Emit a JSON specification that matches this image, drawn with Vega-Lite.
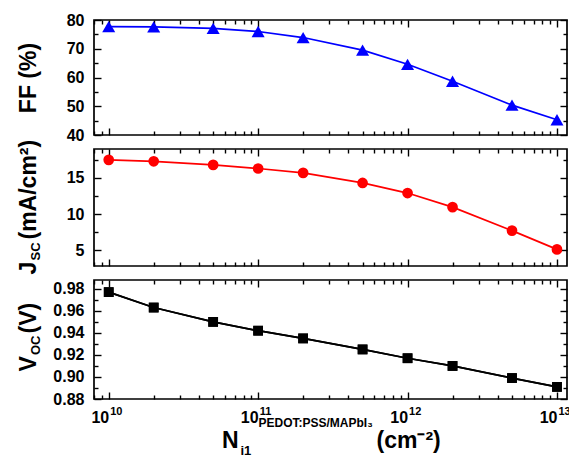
{
  "$schema": "https://vega.github.io/schema/vega-lite/v6.json",
  "padding": {"left": 16, "top": 11, "right": 0, "bottom": 0},
  "data": {"values": [
    {"N": 1e10, "FF": 77.7, "Jsc": 17.5, "Voc": 0.977},
    {"N": 2e10, "FF": 77.6, "Jsc": 17.3, "Voc": 0.963},
    {"N": 5e10, "FF": 77.1, "Jsc": 16.8, "Voc": 0.950},
    {"N": 1e11, "FF": 76.0, "Jsc": 16.3, "Voc": 0.942},
    {"N": 2e11, "FF": 73.9, "Jsc": 15.7, "Voc": 0.935},
    {"N": 5e11, "FF": 69.5, "Jsc": 14.3, "Voc": 0.925},
    {"N": 1e12, "FF": 64.6, "Jsc": 12.9, "Voc": 0.917},
    {"N": 2e12, "FF": 58.7, "Jsc": 10.95, "Voc": 0.910},
    {"N": 5e12, "FF": 50.4, "Jsc": 7.7, "Voc": 0.899},
    {"N": 1e13, "FF": 45.3, "Jsc": 5.1, "Voc": 0.891}
  ]},
  "spacing": 14,
  "bounds": "flush",
  "vconcat": [
    {
      "width": 473, "height": 115,
      "layer": [
        {
          "mark": {"type": "line", "color": "#0000ff", "strokeWidth": 1.7},
          "encoding": {
            "x": {"field": "N", "type": "quantitative", "scale": {"type": "log", "domain": [7.97e9, 1.167e13], "nice": false},
              "axis": {"orient": "bottom", "values": [8e9, 9e9, 1e10, 2e10, 3e10, 4e10, 5e10, 6e10, 7e10, 8e10, 9e10, 1e11, 2e11, 3e11, 4e11, 5e11, 6e11, 7e11, 8e11, 9e11, 1e12, 2e12, 3e12, 4e12, 5e12, 6e12, 7e12, 8e12, 9e12, 1e13],
                "labels": false, "title": null,
                "tickSize": {"condition": {"test": "abs(log(datum.value)/LN10 - round(log(datum.value)/LN10)) < 1e-6", "value": -7}, "value": -4}}},
            "y": {"field": "FF", "type": "quantitative", "scale": {"domain": [40, 80], "nice": false, "zero": false},
              "axis": {"orient": "left", "values": [40, 45, 50, 55, 60, 65, 70, 75, 80],
                "labelExpr": "datum.value % 10 === 0 ? datum.label : ''",
                "tickSize": {"condition": {"test": "datum.value % 10 === 0", "value": -7}, "value": -4},
                "labelPadding": 17,
                "title": "FF (%)", "titleX": -59, "titleY": 57.5, "titleAngle": 270, "titleAlign": "center"}}
          }
        },
        {
          "mark": {"type": "point", "shape": "triangle-up", "filled": true, "color": "#0000ff", "size": 170, "opacity": 1},
          "encoding": {
            "x": {"field": "N", "type": "quantitative", "scale": {"type": "log", "domain": [7.97e9, 1.167e13], "nice": false},
              "axis": {"orient": "top", "values": [8e9, 9e9, 1e10, 2e10, 3e10, 4e10, 5e10, 6e10, 7e10, 8e10, 9e10, 1e11, 2e11, 3e11, 4e11, 5e11, 6e11, 7e11, 8e11, 9e11, 1e12, 2e12, 3e12, 4e12, 5e12, 6e12, 7e12, 8e12, 9e12, 1e13],
                "labels": false, "title": null,
                "tickSize": {"condition": {"test": "abs(log(datum.value)/LN10 - round(log(datum.value)/LN10)) < 1e-6", "value": -7}, "value": -4}}},
            "y": {"field": "FF", "type": "quantitative", "scale": {"domain": [40, 80], "nice": false, "zero": false},
              "axis": {"orient": "right", "values": [40, 45, 50, 55, 60, 65, 70, 75, 80], "labels": false, "title": null,
                "tickSize": {"condition": {"test": "datum.value % 10 === 0", "value": -7}, "value": -4}}}
          }
        }
      ],
      "resolve": {"axis": {"x": "independent", "y": "independent"}}
    },
    {
      "width": 473, "height": 117,
      "layer": [
        {
          "mark": {"type": "line", "color": "#ff0000", "strokeWidth": 1.7},
          "encoding": {
            "x": {"field": "N", "type": "quantitative", "scale": {"type": "log", "domain": [7.97e9, 1.167e13], "nice": false},
              "axis": {"orient": "bottom", "values": [8e9, 9e9, 1e10, 2e10, 3e10, 4e10, 5e10, 6e10, 7e10, 8e10, 9e10, 1e11, 2e11, 3e11, 4e11, 5e11, 6e11, 7e11, 8e11, 9e11, 1e12, 2e12, 3e12, 4e12, 5e12, 6e12, 7e12, 8e12, 9e12, 1e13],
                "labels": false, "title": null,
                "tickSize": {"condition": {"test": "abs(log(datum.value)/LN10 - round(log(datum.value)/LN10)) < 1e-6", "value": -7}, "value": -4}}},
            "y": {"field": "Jsc", "type": "quantitative", "scale": {"domain": [2.8, 19], "nice": false, "zero": false},
              "axis": {"orient": "left", "values": [5, 7.5, 10, 12.5, 15, 17.5],
                "labelExpr": "datum.value % 5 === 0 ? datum.label : ''",
                "tickSize": {"condition": {"test": "datum.value % 5 === 0", "value": -7}, "value": -4},
                "labelPadding": 17,
                "title": "J", "titleX": -59, "titleY": 125, "titleAngle": 270, "titleAlign": "left"}}
          }
        },
        {
          "mark": {"type": "point", "shape": "circle", "filled": true, "color": "#ff0000", "size": 115, "opacity": 1},
          "encoding": {
            "x": {"field": "N", "type": "quantitative", "scale": {"type": "log", "domain": [7.97e9, 1.167e13], "nice": false},
              "axis": {"orient": "top", "values": [8e9, 9e9, 1e10, 2e10, 3e10, 4e10, 5e10, 6e10, 7e10, 8e10, 9e10, 1e11, 2e11, 3e11, 4e11, 5e11, 6e11, 7e11, 8e11, 9e11, 1e12, 2e12, 3e12, 4e12, 5e12, 6e12, 7e12, 8e12, 9e12, 1e13],
                "labels": false,
                "tickSize": {"condition": {"test": "abs(log(datum.value)/LN10 - round(log(datum.value)/LN10)) < 1e-6", "value": -7}, "value": -4},
                "title": "(mA/cm²)", "titleX": -59, "titleY": 90, "titleAngle": 270, "titleAlign": "left"}},
            "y": {"field": "Jsc", "type": "quantitative", "scale": {"domain": [2.8, 19], "nice": false, "zero": false},
              "axis": {"orient": "right", "values": [5, 7.5, 10, 12.5, 15, 17.5], "labels": false,
                "tickSize": {"condition": {"test": "datum.value % 5 === 0", "value": -7}, "value": -4},
                "title": "SC", "titleFontSize": 13, "titleX": -528, "titleY": 111, "titleAngle": 270, "titleAlign": "left"}}
          }
        }
      ],
      "resolve": {"axis": {"x": "independent", "y": "independent"}}
    },
    {
      "width": 473, "height": 119,
      "layer": [
        {
          "mark": {"type": "line", "color": "#000000", "strokeWidth": 1.7},
          "encoding": {
            "x": {"field": "N", "type": "quantitative", "scale": {"type": "log", "domain": [7.97e9, 1.167e13], "nice": false},
              "axis": {"orient": "bottom", "values": [8e9, 9e9, 1e10, 2e10, 3e10, 4e10, 5e10, 6e10, 7e10, 8e10, 9e10, 1e11, 2e11, 3e11, 4e11, 5e11, 6e11, 7e11, 8e11, 9e11, 1e12, 2e12, 3e12, 4e12, 5e12, 6e12, 7e12, 8e12, 9e12, 1e13],
                "labelExpr": "abs(log(datum.value)/LN10 - round(log(datum.value)/LN10)) < 1e-6 ? '10' : ''",
                "labelAlign": "right", "labelOffset": 0, "labelPadding": 17,
                "tickSize": {"condition": {"test": "abs(log(datum.value)/LN10 - round(log(datum.value)/LN10)) < 1e-6", "value": -7}, "value": -4},
                "title": "N", "titleX": 144, "titleY": 48, "titleAngle": 0, "titleAlign": "right"}},
            "y": {"field": "Voc", "type": "quantitative", "scale": {"domain": [0.88, 0.988], "nice": false, "zero": false},
              "axis": {"orient": "left", "values": [0.88, 0.89, 0.9, 0.91, 0.92, 0.93, 0.94, 0.95, 0.96, 0.97, 0.98],
                "labelExpr": "abs(datum.value*50 - round(datum.value*50)) < 1e-6 ? format(datum.value, '.2f') : ''",
                "tickSize": {"condition": {"test": "abs(datum.value*50 - round(datum.value*50)) < 1e-6", "value": -7}, "value": -4},
                "labelPadding": 17,
                "title": "V", "titleX": -59, "titleY": 91, "titleAngle": 270, "titleAlign": "left"}}
          }
        },
        {
          "mark": {"type": "line", "color": "#000000", "strokeWidth": 1.7},
          "encoding": {
            "x": {"field": "N", "type": "quantitative", "scale": {"type": "log", "domain": [7.97e9, 1.167e13], "nice": false},
              "axis": {"orient": "bottom", "values": [1e10, 1e11, 1e12, 1e13], "ticks": false,
                "labelExpr": "toString(round(log(datum.value)/LN10))",
                "labelAlign": "left", "labelOffset": 1, "labelPadding": 6, "labelFontSize": 11,
                "title": "i1", "titleFontSize": 13, "titleX": 146, "titleY": 55, "titleAngle": 0, "titleAlign": "left"}},
            "y": {"field": "Voc", "type": "quantitative", "scale": {"domain": [0.88, 0.988], "nice": false, "zero": false},
              "axis": {"orient": "left", "ticks": false, "labels": false,
                "title": "OC", "titleFontSize": 13, "titleX": -55, "titleY": 74.5, "titleAngle": 270, "titleAlign": "left"}}
          }
        },
        {
          "mark": {"type": "point", "shape": "square", "filled": true, "color": "#000000", "size": 95, "opacity": 1},
          "encoding": {
            "x": {"field": "N", "type": "quantitative", "scale": {"type": "log", "domain": [7.97e9, 1.167e13], "nice": false},
              "axis": {"orient": "top", "values": [8e9, 9e9, 1e10, 2e10, 3e10, 4e10, 5e10, 6e10, 7e10, 8e10, 9e10, 1e11, 2e11, 3e11, 4e11, 5e11, 6e11, 7e11, 8e11, 9e11, 1e12, 2e12, 3e12, 4e12, 5e12, 6e12, 7e12, 8e12, 9e12, 1e13],
                "labels": false,
                "tickSize": {"condition": {"test": "abs(log(datum.value)/LN10 - round(log(datum.value)/LN10)) < 1e-6", "value": -7}, "value": -4},
                "title": "PEDOT:PSS/MAPbI₃", "titleFontSize": 12, "titleX": 164, "titleY": 146, "titleAngle": 0, "titleAlign": "left"}},
            "y": {"field": "Voc", "type": "quantitative", "scale": {"domain": [0.88, 0.988], "nice": false, "zero": false},
              "axis": {"orient": "right", "values": [0.88, 0.89, 0.9, 0.91, 0.92, 0.93, 0.94, 0.95, 0.96, 0.97, 0.98], "labels": false,
                "tickSize": {"condition": {"test": "abs(datum.value*50 - round(datum.value*50)) < 1e-6", "value": -7}, "value": -4},
                "title": "(V)", "titleX": -532, "titleY": 53, "titleAngle": 270, "titleAlign": "left"}}
          }
        },
        {
          "mark": {"type": "point", "shape": "square", "filled": true, "color": "#000000", "size": 95, "opacity": 1},
          "encoding": {
            "x": {"field": "N", "type": "quantitative", "scale": {"type": "log", "domain": [7.97e9, 1.167e13], "nice": false},
              "axis": {"orient": "top", "ticks": false, "labels": false,
                "title": "(cm⁻²)", "titleX": 282, "titleY": 167, "titleAngle": 0, "titleAlign": "left"}},
            "y": {"field": "Voc", "type": "quantitative", "scale": {"domain": [0.88, 0.988], "nice": false, "zero": false}, "axis": null}
          }
        }
      ],
      "resolve": {"axis": {"x": "independent", "y": "independent"}}
    }
  ],
  "config": {
    "view": {"stroke": "#000000", "strokeWidth": 1.7},
    "axis": {
      "domain": false, "grid": false,
      "labelFont": "Liberation Sans", "labelFontWeight": "bold", "labelFontSize": 16, "labelColor": "#000000",
      "labelFlush": false, "labelOverlap": false, "labelBound": false,
      "tickColor": "#000000", "tickWidth": 1.4,
      "titleFont": "Liberation Sans", "titleFontWeight": "bold", "titleFontSize": 23, "titleColor": "#000000",
      "titleBaseline": "alphabetic", "titlePadding": 0
    }
  }
}
